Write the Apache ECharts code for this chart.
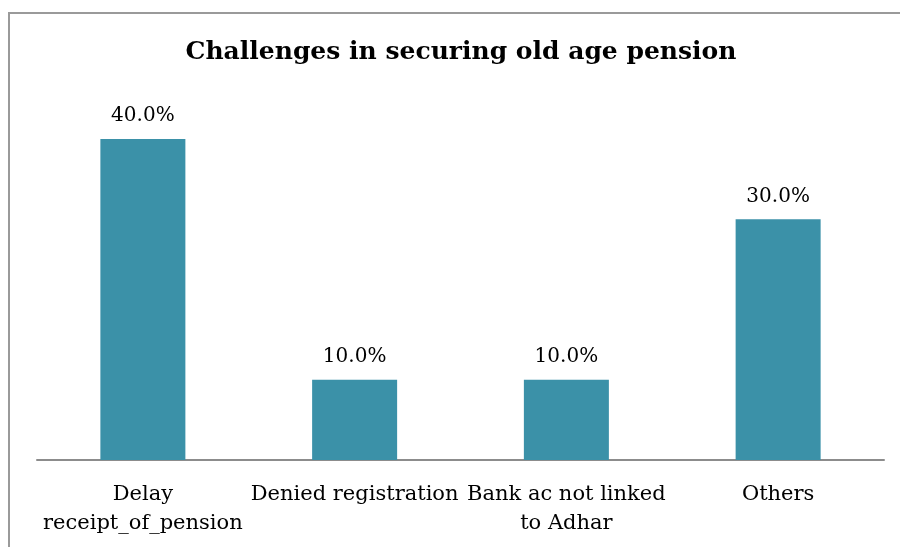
<!DOCTYPE html>
<html>
<head>
<meta charset="utf-8">
<script src="https://cdn.jsdelivr.net/npm/echarts@6/dist/echarts.min.js"></script>
<style>
  html, body { margin: 0; padding: 0; background: #fff; }
  #chart { width: 900px; height: 547px; }
</style>
</head>
<body>
<div id="chart"></div>
<script>
// Challenges reported in securing old age pension (share of respondents, %)
const categories = [
  'Delay\nreceipt_of_pension',
  'Denied registration',
  'Bank ac not linked\nto Adhar',
  'Others'
];
const shares = [40.0, 10.0, 10.0, 30.0];
const titleText = 'Challenges in securing old age pension';

const FONT = '"DejaVu Serif", "Liberation Serif", serif';

const chart = echarts.init(document.getElementById('chart'), null, { renderer: 'canvas' });
chart.setOption({
  animation: false,
  backgroundColor: '#ffffff',
  title: {
    text: titleText,
    left: 456,
    top: 35,
    textAlign: 'center',
    textStyle: { fontFamily: FONT, fontSize: 25, fontWeight: 'bold', color: '#000' }
  },
  graphic: [{
    type: 'rect',
    shape: { x: 9, y: 13, width: 1000, height: 1000 },
    style: { fill: 'none', stroke: '#9a9a9a', lineWidth: 2 },
    silent: true
  }],
  grid: { left: 37, right: 16, top: 99, bottom: 87, containLabel: false },
  xAxis: {
    type: 'category',
    data: categories,
    axisLine: { show: true, lineStyle: { color: '#8c8c8c', width: 2 } },
    axisTick: { show: false },
    axisLabel: {
      interval: 0,
      margin: 20,
      fontFamily: FONT,
      fontSize: 21,
      lineHeight: 29,
      color: '#000'
    }
  },
  yAxis: {
    type: 'value',
    min: 0,
    max: 45,
    show: false,
    splitLine: { show: false }
  },
  series: [{
    type: 'bar',
    data: shares,
    barWidth: 85,
    itemStyle: { color: '#3b91a8' },
    label: {
      show: true,
      position: 'top',
      distance: 13,
      formatter: p => p.value.toFixed(1) + '%',
      fontFamily: FONT,
      fontSize: 20,
      color: '#000'
    }
  }]
});
</script>
</body>
</html>
